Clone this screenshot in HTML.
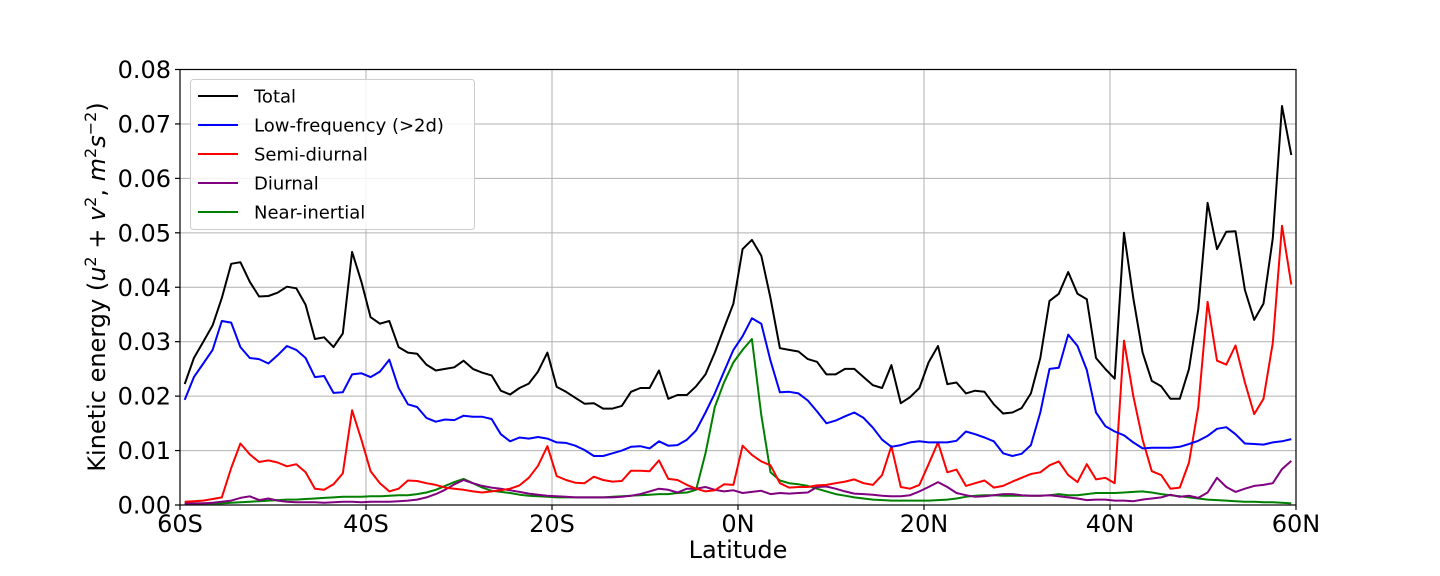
<!DOCTYPE html>
<html><head><meta charset="utf-8"><style>
html,body{margin:0;padding:0;background:#fff;width:1440px;height:576px;overflow:hidden}
svg text{font-family:"DejaVu Sans","Liberation Sans",sans-serif;fill:#000}
</style></head><body>
<svg id="chart" width="1440" height="576" xmlns="http://www.w3.org/2000/svg">
<g id="grid"></g>
<g id="series"></g>
<rect x="180" y="69.5" width="1116" height="435.5" fill="none" stroke="#000" stroke-width="1.2"/>
<g id="ticks"></g>
<text x="738" y="558" font-size="24" text-anchor="middle">Latitude</text>
<text transform="translate(105,287) rotate(-90)" font-size="24" text-anchor="middle">Kinetic energy (<tspan font-style="italic">u</tspan><tspan font-size="16" dy="-9">2</tspan><tspan dy="9"> + </tspan><tspan font-style="italic">v</tspan><tspan font-size="16" dy="-9">2</tspan><tspan dy="9">, </tspan><tspan font-style="italic">m</tspan><tspan font-size="16" dy="-9">2</tspan><tspan dy="9" font-style="italic">s</tspan><tspan font-size="16" dy="-9">−2</tspan><tspan dy="9">)</tspan></text>
<g id="legend">
<rect x="190.5" y="79.5" width="284" height="150" rx="3" fill="#fff" fill-opacity="0.85" stroke="#ccc"/>
</g>
</svg>
<script>
const lats = [];
for (let i = 0; i < 120; i++) lats.push(-59.5 + i);
const total = [
.0222,.027,.030,.033,.038,.0443,.0446,.041,.0383,.0384,
.039,.0401,.0398,.0368,.0305,.0308,.029,.0315,.0465,.041,
.0345,.0333,.0338,.029,.028,.0278,.0258,.0247,.025,.0253,
.0265,.025,.0243,.0238,.021,.0203,.0215,.0223,.0245,.028,
.0217,.0208,.0197,.0186,.0187,.0177,.0177,.0182,.0208,.0215,
.0215,.0247,.0195,.0202,.0202,.0218,.024,.028,.0325,.037,
.047,.0487,.0458,.038,.0288,.0285,.0282,.0268,.0263,.024,
.024,.025,.025,.0235,.022,.0215,.0257,.0187,.0198,.0215,
.0262,.0292,.0222,.0225,.0205,.021,.0208,.0185,.0168,.017,
.0178,.0205,.027,.0375,.0388,.0428,.0388,.0378,.027,.025,
.0232,.050,.038,.028,.0228,.0218,.0195,.0195,.025,.036,
.0555,.047,.0502,.0503,.0395,.034,.037,.049,.0733,.0643];
const lowFreq = [
.0193,.0235,.026,.0285,.0338,.0335,.029,.027,.0268,.026,
.0275,.0292,.0285,.027,.0235,.0237,.0206,.0207,.024,.0242,
.0235,.0245,.0267,.0215,.0185,.018,.016,.0153,.0157,.0156,
.0164,.0162,.0162,.0158,.013,.0117,.0124,.0122,.0125,.0122,
.0115,.0114,.0109,.0101,.009,.009,.0095,.01,.0107,.0108,
.0104,.0117,.0109,.011,.012,.0137,.017,.0205,.0245,.0285,
.031,.0343,.0333,.0265,.0207,.0208,.0205,.0192,.0172,.015,
.0155,.0163,.017,.016,.0142,.012,.0107,.011,.0115,.0117,
.0115,.0115,.0115,.0118,.0135,.013,.0124,.0117,.0095,.009,
.0094,.011,.017,.025,.0252,.0313,.0292,.0248,.017,.0145,
.0135,.0128,.0115,.0104,.0105,.0105,.0105,.0107,.0112,.0118,
.0127,.014,.0143,.013,.0113,.0112,.0111,.0115,.0117,.0121];
const semiDiurnal = [
.0006,.0007,.0008,.0011,.0014,.0068,.0113,.0093,.0079,.0082,
.0078,.0071,.0075,.006,.003,.0028,.0038,.0058,.0174,.012,
.0062,.004,.0025,.003,.0045,.0044,.004,.0037,.0032,.003,
.0028,.0025,.0023,.0025,.0027,.003,.0036,.005,.0072,.0108,
.0053,.0046,.0041,.004,.0052,.0046,.0043,.0044,.0063,.0063,
.0062,.0082,.0048,.0046,.0037,.003,.0025,.0027,.0038,.0037,
.0109,.0092,.008,.0073,.004,.0032,.0033,.0033,.0036,.0037,
.004,.0043,.0047,.004,.0037,.0055,.0108,.0033,.003,.0037,
.0075,.0115,.006,.0065,.0035,.004,.0045,.0032,.0035,.0043,
.005,.0057,.006,.0073,.008,.0055,.0042,.0075,.0047,.005,
.004,.0302,.02,.012,.0062,.0055,.003,.0032,.0078,.018,
.0373,.0265,.0258,.0293,.0225,.0167,.0195,.0298,.0513,.0405];
const diurnal = [
.0003,.0003,.0003,.0004,.0006,.0008,.0013,.0016,.0009,.0012,
.0008,.0006,.0005,.0005,.0005,.0004,.0005,.0006,.0006,.0005,
.0006,.0006,.0006,.0007,.0008,.0010,.0014,.0020,.0028,.0038,
.0046,.0040,.0035,.0032,.0030,.0027,.0024,.0021,.0019,.0017,
.0016,.0015,.0014,.0014,.0014,.0014,.0014,.0015,.0017,.0020,
.0025,.0030,.0028,.0023,.0030,.0030,.0033,.0028,.0025,.0027,
.0022,.0024,.0026,.0020,.0022,.0021,.0022,.0023,.0033,.0034,
.0030,.0025,.0021,.0020,.0019,.0017,.0016,.0016,.0018,.0025,
.0033,.0042,.0033,.0022,.0018,.0015,.0016,.0018,.0020,.0020,
.0018,.0017,.0017,.0018,.0016,.0014,.0012,.0009,.0010,.0010,
.0008,.0008,.0007,.0010,.0012,.0014,.0019,.0015,.0017,.0013,
.0023,.0050,.0033,.0024,.0030,.0035,.0037,.0040,.0066,.0081];
const nearInertial = [
.0003,.0003,.0003,.0003,.0003,.0004,.0005,.0006,.0007,.0008,
.0009,.0010,.0010,.0011,.0012,.0013,.0014,.0015,.0015,.0015,
.0016,.0016,.0017,.0018,.0018,.0020,.0023,.0028,.0035,.0042,
.0048,.0040,.0032,.0026,.0024,.0022,.0019,.0017,.0016,.0015,
.0014,.0014,.0014,.0014,.0014,.0014,.0015,.0016,.0017,.0018,
.0019,.0020,.0020,.0022,.0023,.0028,.0095,.018,.0225,.0262,
.0285,.0305,.0165,.006,.0045,.004,.0038,.0035,.003,.0025,
.002,.0017,.0014,.0012,.001,.0009,.0008,.0008,.0008,.0008,
.0008,.0009,.001,.0012,.0015,.0017,.0018,.0018,.0017,.0017,
.0017,.0017,.0017,.0018,.002,.0018,.0018,.002,.0022,.0022,
.0022,.0023,.0024,.0025,.0023,.0020,.0018,.0016,.0014,.0012,
.0010,.0009,.0008,.0007,.0006,.0006,.0005,.0005,.0004,.0003];
const seriesNames = ["Total","Low-frequency (>2d)","Semi-diurnal","Diurnal","Near-inertial"];
const xTicks = [-60,-40,-20,0,20,40,60];
const xTickLabels = ["60S","40S","20S","0N","20N","40N","60N"];
const yTicks = [0,0.01,0.02,0.03,0.04,0.05,0.06,0.07,0.08];
const yTickLabels = ["0.00","0.01","0.02","0.03","0.04","0.05","0.06","0.07","0.08"];

const X0=180,X1=1296,Y0=505,Y1=69.5;
const xs = v => X0 + (v+60)/120*(X1-X0);
const ys = v => Y0 - v/0.08*(Y0-Y1);
const NS="http://www.w3.org/2000/svg";
function mk(tag, attrs, parent){const e=document.createElementNS(NS,tag);for(const k in attrs)e.setAttribute(k,attrs[k]);parent.appendChild(e);return e;}
const grid=document.getElementById('grid'), ticks=document.getElementById('ticks'), sg=document.getElementById('series'), leg=document.getElementById('legend');
xTicks.forEach((t,i)=>{
  const gl=mk('line',{x1:xs(t),x2:xs(t),y1:Y1,y2:Y0,stroke:'#b0b0b0','stroke-width':1},grid);
  
  
  const tk=mk('line',{x1:xs(t),x2:xs(t),y1:Y0,y2:Y0+5,stroke:'#000','stroke-width':1.2},ticks);
  
  
  const tx=mk('text',{x:xs(t),y:Y0+27,'font-size':24,'text-anchor':'middle'},ticks);
  tx.textContent=xTickLabels[i];
  
  
});
yTicks.forEach((t,i)=>{
  const gl=mk('line',{x1:X0,x2:X1,y1:ys(t),y2:ys(t),stroke:'#b0b0b0','stroke-width':1},grid);
  
  
  const tk=mk('line',{x1:X0-5,x2:X0,y1:ys(t),y2:ys(t),stroke:'#000','stroke-width':1.2},ticks);
  
  
  const tx=mk('text',{x:X0-9,y:ys(t)+8.5,'font-size':24,'text-anchor':'end'},ticks);
  tx.textContent=yTickLabels[i];
  
  
});
const colors=['#000000','#0000ff','#ff0000','#800080','#008000'];
const data=[total,lowFreq,semiDiurnal,diurnal,nearInertial];
const ids=['total-line','low-frequency-line','semi-diurnal-line','diurnal-line','near-inertial-line'];
[4,3,2,1,0].forEach(k=>{
  const pts=data[k].map((v,i)=>xs(lats[i]).toFixed(1)+','+ys(v).toFixed(1)).join(' ');
  const pl=mk('polyline',{points:pts,fill:'none',stroke:colors[k],'stroke-width':2,'stroke-linejoin':'round'},sg);
  
  
});
seriesNames.forEach((n,k)=>{
  const y=96+k*29;
  const ln=mk('line',{x1:198,x2:238,y1:y,y2:y,stroke:colors[k],'stroke-width':2},leg);
  
  
  const tx=mk('text',{x:254,y:y+6.5,'font-size':18},leg);
  tx.textContent=n;
  
  
});
</script>
</body></html>
